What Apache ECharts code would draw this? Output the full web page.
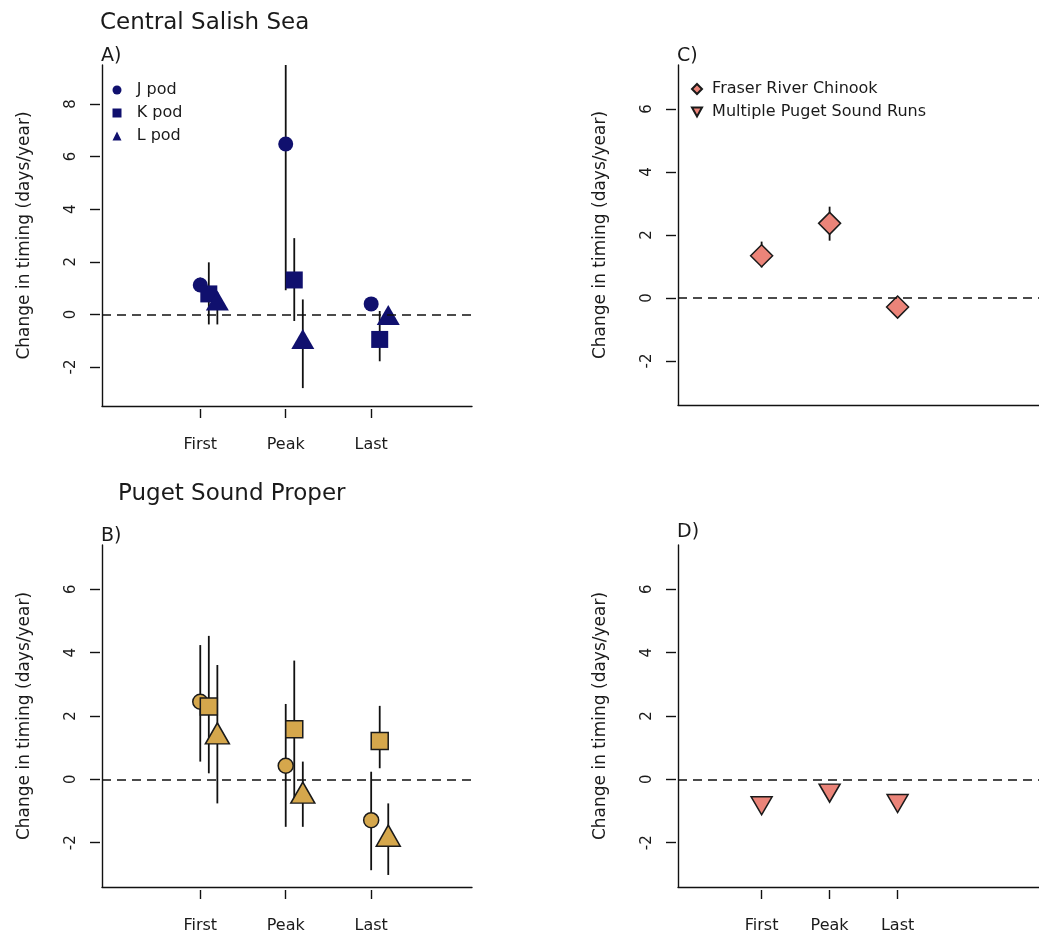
<!DOCTYPE html>
<html><head><meta charset="utf-8">
<script src="https://cdn.jsdelivr.net/npm/echarts@6/dist/echarts.min.js"></script>
<style>html,body{margin:0;padding:0;background:#fff}#c{width:1039px;height:935px}</style>
</head><body><div id="c"></div>
<script>
// ---------- data ----------
const categories = ['First', 'Peak', 'Last'];
const yTicksA = [-2, 0, 2, 4, 6, 8];
const yTicksB = [-2, 0, 2, 4, 6];
const podNames = ['J pod', 'K pod', 'L pod'];
const yTitle = 'Change in timing (days/year)';

// Panel A: Central Salish Sea (estimate, lower, upper)
const aJ = [1.12, 6.48, 0.40], aJlo = [0.85, 0.92, 0.20], aJhi = [1.40, 9.90, 0.60];
const aK = [0.78, 1.31, -0.95], aKlo = [-0.38, -0.25, -1.78], aKhi = [1.98, 2.90, 0.13];
const aL = [0.40, -1.06, -0.15], aLlo = [-0.38, -2.80, -0.40], aLhi = [0.85, 0.57, 0.15];

// Panel B: Puget Sound Proper
const bJ = [2.45, 0.43, -1.29], bJlo = [0.56, -1.50, -2.87], bJhi = [4.24, 2.38, 0.24];
const bK = [2.30, 1.58, 1.21], bKlo = [0.19, -0.60, 0.35], bKhi = [4.53, 3.75, 2.32];
const bL = [1.34, -0.53, -1.89], bLlo = [-0.76, -1.50, -3.02], bLhi = [3.61, 0.56, -0.76];

// Panel C: Fraser River Chinook
const cF = [1.34, 2.37, -0.29], cFlo = [0.97, 1.82, -0.45], cFhi = [1.79, 2.90, -0.12];
// Panel D: Multiple Puget Sound Runs
const dP = [-0.74, -0.34, -0.67], dPlo = [-0.95, -0.50, -0.85], dPhi = [-0.55, -0.20, -0.50];

// ---------- styling ----------
const FONT = 'DejaVu Sans';
const TXT = '#1a1a1a';
const NAVY = '#10106e';
const GOLD = '#D5A74C';
const SALMON = '#EB8479';
const EDGE = '#1a1a1a';
const dodge = [0, 0.1, 0.2];

const grids = [
  {left: 102, top: 65, width: 370, height: 341},   // A
  {left: 102, top: 545, width: 370, height: 342},  // B
  {left: 678, top: 65, width: 361, height: 340},   // C
  {left: 678, top: 545, width: 361, height: 342}   // D
];
const xr = [[-0.15, 4.18], [-0.15, 4.18], [-0.23, 5.08], [-0.23, 5.08]];
const yr = [[-3.48, 9.48], [-3.4, 7.4], [-3.4, 7.4], [-3.4, 7.4]];
const yt = [yTicksA, yTicksB, yTicksB, yTicksB];
const showX = [true, true, false, true];

const xAxis = [], yAxis = [];
grids.forEach((g, gi) => {
  xAxis.push({gridIndex: gi, type: 'value', position: 'bottom', min: xr[gi][0], max: xr[gi][1],
    axisLine: {show: true, onZero: false, lineStyle: {color: '#111', width: 1.4}},
    axisTick: {show: false}, axisLabel: {show: false}, splitLine: {show: false}});
  xAxis.push({gridIndex: gi, type: 'value', position: 'bottom', offset: 3, min: xr[gi][0], max: xr[gi][1],
    axisLine: {show: false, onZero: false},
    axisTick: {show: showX[gi], length: 9, customValues: [1, 2, 3], lineStyle: {color: '#111', width: 1.4}},
    axisLabel: {show: showX[gi], customValues: [1, 2, 3], formatter: v => categories[Math.round(v) - 1],
      margin: 28, fontSize: 16, fontFamily: FONT, color: TXT},
    splitLine: {show: false}});
  yAxis.push({gridIndex: gi, type: 'value', position: 'left', min: yr[gi][0], max: yr[gi][1],
    axisLine: {show: true, onZero: false, lineStyle: {color: '#111', width: 1.4}},
    axisTick: {show: false}, axisLabel: {show: false}, splitLine: {show: false}});
  yAxis.push({gridIndex: gi, type: 'value', position: 'left', offset: 2, min: yr[gi][0], max: yr[gi][1],
    axisLine: {show: false, onZero: false},
    axisTick: {show: true, length: 10, customValues: yt[gi], lineStyle: {color: '#111', width: 1.4}},
    axisLabel: {customValues: yt[gi], rotate: 90, margin: 21, fontSize: 15, fontFamily: FONT, color: TXT},
    name: yTitle, nameLocation: 'middle', nameRotate: 90, nameGap: 67,
    nameTextStyle: {fontSize: 17, fontFamily: FONT, color: TXT},
    splitLine: {show: false}});
});

function errSeries(gi, name, xs, lo, hi) {
  return {
    type: 'custom', name: name, xAxisIndex: 2 * gi, yAxisIndex: 2 * gi, clip: true, silent: true, z: 2,
    data: xs.map((x, i) => [x, lo[i], hi[i]]),
    encode: {x: 0, y: [1, 2]},
    renderItem: (params, api) => {
      const p1 = api.coord([api.value(0), api.value(1)]);
      const p2 = api.coord([api.value(0), api.value(2)]);
      return {type: 'line', shape: {x1: p1[0], y1: p1[1], x2: p2[0], y2: p2[1]},
        style: {stroke: '#111', lineWidth: 1.8}};
    }
  };
}
function ptSeries(gi, name, xs, est, sym, size, color, border, offset, rotate) {
  return {
    type: 'scatter', name: name, xAxisIndex: 2 * gi, yAxisIndex: 2 * gi, z: 3, silent: true,
    data: xs.map((x, i) => [x, est[i]]),
    symbol: sym, symbolSize: size, symbolOffset: offset || [0, 0], symbolRotate: rotate || 0,
    itemStyle: {color: color, borderColor: border ? EDGE : color, borderWidth: border ? 1.5 : 0, opacity: 1},
    emphasis: {disabled: true}
  };
}
const xsFor = d => categories.map((_, i) => i + 1 + d);
const dashLine = {silent: true, symbol: 'none', label: {show: false},
  lineStyle: {color: '#111', type: [9, 6], width: 1.5}, data: [{yAxis: 0}]};

const series = [];
// error bars first
[[aJ, aJlo, aJhi], [aK, aKlo, aKhi], [aL, aLlo, aLhi]].forEach((s, k) =>
  series.push(errSeries(0, podNames[k] + ' CI A', xsFor(dodge[k]), s[1], s[2])));
[[bJ, bJlo, bJhi], [bK, bKlo, bKhi], [bL, bLlo, bLhi]].forEach((s, k) =>
  series.push(errSeries(1, podNames[k] + ' CI B', xsFor(dodge[k]), s[1], s[2])));
series.push(errSeries(2, 'Fraser CI', xsFor(0), cFlo, cFhi));
series.push(errSeries(3, 'Puget CI', xsFor(0), dPlo, dPhi));

// points
const sA = [ptSeries(0, 'J pod', xsFor(0), aJ, 'circle', 15, NAVY, false),
            ptSeries(0, 'K pod', xsFor(0.1), aK, 'rect', 17, NAVY, false),
            ptSeries(0, 'L pod', xsFor(0.2), aL, 'triangle', [23, 20], NAVY, false, [0, -3.3])];
sA[0].markLine = dashLine;
const sB = [ptSeries(1, 'J pod', xsFor(0), bJ, 'circle', 15, GOLD, true),
            ptSeries(1, 'K pod', xsFor(0.1), bK, 'rect', 17, GOLD, true),
            ptSeries(1, 'L pod', xsFor(0.2), bL, 'triangle', [24, 21], GOLD, true, [0, -3.5])];
sB[0].markLine = dashLine;
const sC = ptSeries(2, 'Fraser River Chinook', xsFor(0), cF, 'diamond', [22, 22], SALMON, true);
sC.markLine = dashLine;
const sD = ptSeries(3, 'Multiple Puget Sound Runs', xsFor(0), dP, 'triangle', [21, 18], SALMON, true, [0, 3], 180);
sD.markLine = dashLine;
series.push(...sA, ...sB, sC, sD);

const titleStyle = {fontFamily: FONT, color: TXT, fontWeight: 'normal'};
const option = {
  animation: false,
  backgroundColor: '#fff',
  title: [
    {text: 'Central Salish Sea', left: 100, top: 12, textStyle: Object.assign({fontSize: 23}, titleStyle)},
    {text: 'A)', left: 101, top: 47, textStyle: Object.assign({fontSize: 19}, titleStyle)},
    {text: 'C)', left: 677, top: 47, textStyle: Object.assign({fontSize: 19}, titleStyle)},
    {text: 'Puget Sound Proper', left: 118, top: 483, textStyle: Object.assign({fontSize: 23}, titleStyle)},
    {text: 'B)', left: 101, top: 527, textStyle: Object.assign({fontSize: 19}, titleStyle)},
    {text: 'D)', left: 677, top: 523, textStyle: Object.assign({fontSize: 19}, titleStyle)}
  ].map(t => Object.assign({padding: 0}, t)),
  legend: [
    {orient: 'vertical', left: 112.5, top: 82, itemWidth: 9, itemHeight: 9, itemGap: 7, selectedMode: false,
      padding: 0,
      data: podNames,
      formatter: n => '  ' + n,
      textStyle: {fontSize: 16, fontFamily: FONT, color: TXT, lineHeight: 16}},
    {orient: 'vertical', left: 691, top: 81, itemWidth: 10, itemHeight: 10, itemGap: 7, selectedMode: false,
      padding: 0,
      data: [{name: 'Fraser River Chinook', icon: 'diamond'},
             {name: 'Multiple Puget Sound Runs', icon: 'path://M0,0L20,0L10,18Z'}],
      formatter: n => ' ' + n,
      textStyle: {fontSize: 16, fontFamily: FONT, color: TXT, lineHeight: 16}}
  ],
  grid: grids,
  xAxis: xAxis,
  yAxis: yAxis,
  series: series
};
const chart = echarts.init(document.getElementById('c'), null, {renderer: 'canvas'});
chart.setOption(option);
</script>
</body></html>
